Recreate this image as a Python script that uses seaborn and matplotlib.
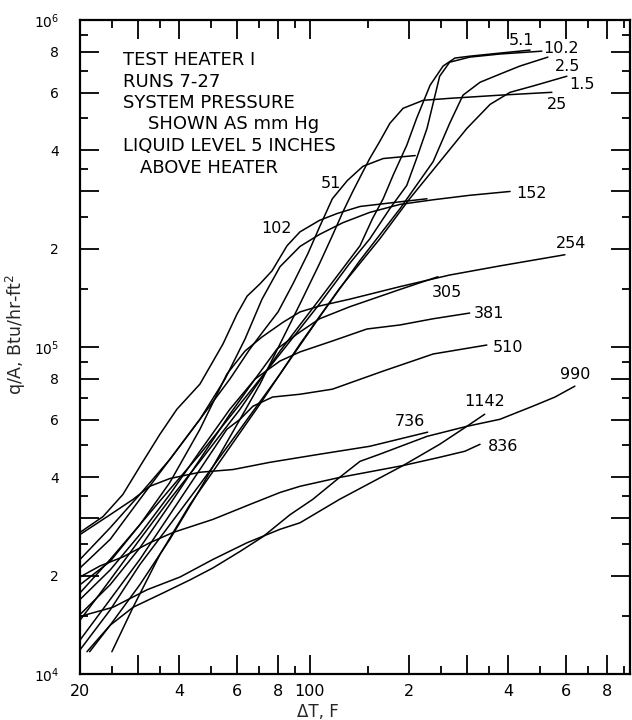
import numpy as np
import pandas as pd
import matplotlib
matplotlib.use("Agg")
import matplotlib.pyplot as plt
import seaborn as sns
from matplotlib.ticker import FixedLocator, FixedFormatter, NullFormatter

# ---- data (delta T in F, q/A in Btu/hr-ft2) ----
dt_1_5 = [25.0, 29.0, 35.0, 43.2, 53.3, 70.5, 93.3, 123, 163, 201, 243, 300, 353, 406, 476, 604]
q_1_5 = [1.17e4, 1.60e4, 2.32e4, 3.30e4, 4.47e4, 6.69e4, 1.021e5, 1.51e5, 2.14e5, 2.84e5, 3.59e5, 4.66e5, 5.52e5, 6.01e5, 6.28e5, 6.73e5]

dt_2_5 = [20, 24.7, 30.4, 37.5, 46.3, 61.3, 81.1, 107, 142, 188, 237, 266, 292, 329, 378, 435, 529]
q_2_5 = [1.185e4, 1.57e4, 2.16e4, 2.86e4, 3.80e4, 5.60e4, 8.26e4, 1.236e5, 1.84e5, 2.65e5, 3.69e5, 4.83e5, 5.89e5, 6.45e5, 6.83e5, 7.23e5, 7.70e5]

dt_5_1 = [20, 24.7, 30.4, 37.5, 46.3, 61.3, 81.1, 107, 142, 155, 167, 179, 197, 211, 232, 254, 276, 306, 378, 467]
q_5_1 = [1.46e4, 1.94e4, 2.58e4, 3.42e4, 4.47e4, 6.45e4, 9.72e4, 1.40e5, 2.04e5, 2.47e5, 2.84e5, 3.35e5, 4.14e5, 5.0e5, 6.32e5, 7.23e5, 7.65e5, 7.75e5, 7.92e5, 8.09e5]

dt_10_2 = [20, 24.7, 30.4, 37.5, 46.3, 61.3, 81.1, 107, 132, 152, 175, 197, 211, 227, 237, 248, 266, 306, 378, 507]
q_10_2 = [1.77e4, 2.24e4, 2.86e4, 3.67e4, 4.70e4, 6.69e4, 9.52e4, 1.355e5, 1.80e5, 2.14e5, 2.65e5, 3.12e5, 3.77e5, 4.66e5, 5.57e5, 6.73e5, 7.43e5, 7.70e5, 7.87e5, 8.03e5]

dt_25 = [21.4, 24.7, 30.4, 37.5, 46.3, 53.3, 61.3, 70.5, 81.1, 93.3, 107, 117, 126, 135, 145, 152, 163, 175, 192, 221, 266, 378, 544]
q_25 = [1.17e4, 1.41e4, 1.875e4, 2.58e4, 3.67e4, 4.70e4, 6.01e4, 7.70e4, 1.021e5, 1.355e5, 1.80e5, 2.19e5, 2.59e5, 2.99e5, 3.44e5, 3.77e5, 4.25e5, 4.83e5, 5.37e5, 5.68e5, 5.76e5, 5.89e5, 6.01e5]

dt_51 = [20, 24.7, 30.4, 37.5, 46.3, 57.1, 65.7, 73.0, 80.0, 88.8, 98.6, 107, 117, 130, 145, 167, 209]
q_51 = [2.11e4, 2.58e4, 3.42e4, 4.53e4, 6.01e4, 7.98e4, 9.86e4, 1.135e5, 1.28e5, 1.56e5, 1.93e5, 2.33e5, 2.84e5, 3.23e5, 3.57e5, 3.77e5, 3.85e5]

dt_102 = [20, 23.5, 27.0, 31.1, 35.0, 39.4, 46.3, 54.4, 60.0, 64.4, 70.5, 76.7, 85.2, 93.3, 107, 121, 142, 188, 227]
q_102 = [2.71e4, 3.03e4, 3.54e4, 4.47e4, 5.41e4, 6.45e4, 7.70e4, 1.021e5, 1.26e5, 1.43e5, 1.56e5, 1.71e5, 2.04e5, 2.25e5, 2.44e5, 2.56e5, 2.69e5, 2.78e5, 2.84e5]

dt_152 = [20, 24.7, 30.4, 37.5, 46.3, 55.2, 63.5, 71.5, 81.1, 93.3, 107, 126, 152, 188, 237, 306, 406]
q_152 = [2.24e4, 2.80e4, 3.54e4, 4.53e4, 6.01e4, 7.98e4, 1.058e5, 1.40e5, 1.76e5, 2.03e5, 2.21e5, 2.40e5, 2.58e5, 2.73e5, 2.82e5, 2.91e5, 2.99e5]

dt_254 = [20, 24.7, 30.4, 37.5, 46.3, 55.9, 63.5, 71.5, 82.8, 93.3, 107, 132, 188, 266, 378, 596]
q_254 = [1.875e4, 2.21e4, 2.86e4, 3.85e4, 5.60e4, 8.26e4, 9.72e4, 1.073e5, 1.19e5, 1.28e5, 1.335e5, 1.40e5, 1.53e5, 1.66e5, 1.77e5, 1.915e5]

dt_305 = [20, 24.7, 30.4, 37.5, 46.3, 57.1, 68.1, 79.4, 93.3, 107, 132, 188, 245]
q_305 = [1.52e4, 1.875e4, 2.43e4, 3.30e4, 4.53e4, 6.23e4, 7.98e4, 9.86e4, 1.112e5, 1.22e5, 1.327e5, 1.50e5, 1.64e5]

dt_381 = [20, 24.7, 30.4, 37.5, 46.3, 57.1, 68.1, 81.1, 93.3, 117, 149, 188, 237, 306]
q_381 = [1.69e4, 2.08e4, 2.67e4, 3.54e4, 4.80e4, 6.45e4, 7.98e4, 9.06e4, 9.66e4, 1.043e5, 1.135e5, 1.168e5, 1.22e5, 1.27e5]

dt_510 = [20, 24.7, 30.4, 37.5, 46.3, 55.9, 61.3, 67.1, 77.0, 93.3, 117, 167, 237, 345]
q_510 = [1.27e4, 1.69e4, 2.24e4, 3.07e4, 4.22e4, 5.60e4, 6.01e4, 6.59e4, 7.03e4, 7.17e4, 7.43e4, 8.44e4, 9.52e4, 1.014e5]

dt_736 = [20, 24.7, 29.0, 32.6, 37.5, 46.3, 58.4, 75.6, 107, 152, 228]
q_736 = [2.67e4, 3.07e4, 3.42e4, 3.75e4, 3.96e4, 4.14e4, 4.22e4, 4.44e4, 4.70e4, 4.97e4, 5.49e4]

dt_836 = [20, 23.0, 27.0, 32.6, 38.4, 50.7, 65.7, 81.1, 93.3, 123, 192, 248, 296, 329]
q_836 = [1.98e4, 2.14e4, 2.28e4, 2.52e4, 2.71e4, 2.97e4, 3.30e4, 3.59e4, 3.75e4, 3.99e4, 4.34e4, 4.60e4, 4.80e4, 5.04e4]

dt_990 = [21.0, 24.7, 29.0, 35.8, 43.2, 50.7, 61.3, 72.0, 87.0, 102, 123, 142, 163, 227, 300, 378, 476, 556, 639]
q_990 = [1.17e4, 1.41e4, 1.60e4, 1.77e4, 1.94e4, 2.11e4, 2.37e4, 2.63e4, 3.07e4, 3.42e4, 3.99e4, 4.47e4, 4.70e4, 5.33e4, 5.72e4, 6.01e4, 6.59e4, 7.03e4, 7.59e4]

dt_1142 = [20, 25.2, 32.0, 40.3, 50.7, 64.4, 81.1, 93.3, 123, 192, 248, 300, 340]
q_1142 = [1.50e4, 1.60e4, 1.81e4, 1.98e4, 2.24e4, 2.52e4, 2.77e4, 2.90e4, 3.42e4, 4.34e4, 5.04e4, 5.72e4, 6.23e4]

run_names = ["1.5", "2.5", "5.1", "10.2", "25", "51", "102", "152",
             "254", "305", "381", "510", "736", "836", "990", "1142"]
run_dt = [dt_1_5, dt_2_5, dt_5_1, dt_10_2, dt_25, dt_51, dt_102, dt_152,
          dt_254, dt_305, dt_381, dt_510, dt_736, dt_836, dt_990, dt_1142]
run_q = [q_1_5, q_2_5, q_5_1, q_10_2, q_25, q_51, q_102, q_152,
         q_254, q_305, q_381, q_510, q_736, q_836, q_990, q_1142]

# curve label anchor points (data coords)
label_dt = [671, 608, 441, 580, 564, 116, 79.4, 473, 622, 261, 350, 400, 201, 386, 639, 340]
label_q = [6.36e5, 7.23e5, 8.68e5, 8.2e5, 5.52e5, 3.16e5, 2.30e5, 2.95e5, 2.07e5, 1.47e5,
           1.27e5, 1.0e5, 5.93e4, 4.97e4, 8.26e4, 6.83e4]

# ticks
x_major = [20, 30, 40, 60, 80, 100, 200, 300, 400, 600, 800]
x_major_labels = ["20", "", "4", "6", "8", "100", "2", "", "4", "6", "8"]
x_minor = [25, 35, 50, 70, 90, 150, 250, 350, 500, 700, 900]
y_major = [1e4, 2e4, 3e4, 4e4, 6e4, 8e4, 1e5, 2e5, 3e5, 4e5, 6e5, 8e5, 1e6]
y_major_labels = ["$10^4$", "2", "", "4", "6", "8", "$10^5$", "2", "", "4", "6", "8", "$10^6$"]
y_minor = [1.5e4, 2.5e4, 3.5e4, 5e4, 7e4, 9e4, 1.5e5, 2.5e5, 3.5e5, 5e5, 7e5, 9e5]

note_lines = ["TEST HEATER I", "RUNS 7-27", "SYSTEM PRESSURE", "SHOWN AS mm Hg",
              "LIQUID LEVEL 5 INCHES", "ABOVE HEATER"]

# ---- build long table ----
frames = []
for name, xs, ys in zip(run_names, run_dt, run_q):
    frames.append(pd.DataFrame({"dT": xs, "q": ys, "run": name}))
df = pd.concat(frames, ignore_index=True)

sns.set_style("ticks")
plt.rcParams["font.family"] = ["DejaVu Sans"]

fig = plt.figure(figsize=(6.32, 7.2), dpi=100)
ax = fig.add_axes([80 / 632, 46 / 720, 550 / 632, 654 / 720])
ax.set_xscale("log")
ax.set_yscale("log")

sns.lineplot(data=df, x="dT", y="q", hue="run", units="run", estimator=None,
             palette=["black"] * len(run_names), legend=False, sort=True,
             linewidth=1.1, ax=ax)

ax.set_xlim(20, 940)
ax.set_ylim(1e4, 1e6)

ax.xaxis.set_major_locator(FixedLocator(x_major))
ax.xaxis.set_major_formatter(FixedFormatter(x_major_labels))
ax.xaxis.set_minor_locator(FixedLocator(x_minor))
ax.xaxis.set_minor_formatter(NullFormatter())
ax.yaxis.set_major_locator(FixedLocator(y_major))
ax.yaxis.set_major_formatter(FixedFormatter(y_major_labels))
ax.yaxis.set_minor_locator(FixedLocator(y_minor))
ax.yaxis.set_minor_formatter(NullFormatter())

ax.tick_params(which="both", direction="in", top=True, right=True, color="black",
               width=1.3, labelcolor="black")
ax.tick_params(which="major", length=14)
ax.tick_params(which="minor", length=6)
ax.tick_params(axis="y", which="major", pad=15, labelsize=10)
ax.tick_params(axis="x", which="major", pad=7, labelsize=11.5)

for s in ax.spines.values():
    s.set_linewidth(1.6)
    s.set_color("black")

ax.set_xlabel("ΔT, F", fontsize=12)
ax.set_ylabel("q/A, Btu/hr-ft$^2$", fontsize=12.5)
ax.xaxis.set_label_coords(0.433, -0.045)
ax.yaxis.set_label_coords(-0.094, 0.52)

for t, xv, yv in zip(run_names, label_dt, label_q):
    ax.text(xv, yv, t, ha="center", va="center", fontsize=11.5, color="black")

note_x = [0.078, 0.078, 0.078, 0.124, 0.078, 0.109]
note_y = [0.939, 0.905, 0.873, 0.841, 0.807, 0.774]
for t, xv, yv in zip(note_lines, note_x, note_y):
    ax.text(xv, yv, t, transform=ax.transAxes, ha="left", va="center",
            fontsize=13, color="black")

fig.savefig("out.png", dpi=100, facecolor="white")
